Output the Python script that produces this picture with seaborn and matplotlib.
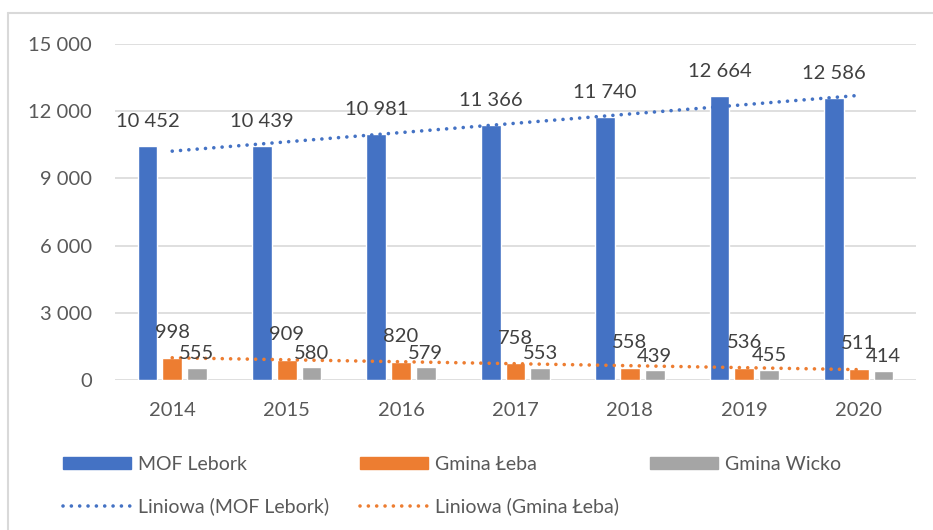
import numpy as np
import pandas as pd
import matplotlib
matplotlib.use("Agg")
import matplotlib.pyplot as plt
from matplotlib.lines import Line2D
from matplotlib.patches import Patch
import seaborn as sns

# data
years = ["2014", "2015", "2016", "2017", "2018", "2019", "2020"]
mof_lebork = [10452, 10439, 10981, 11366, 11740, 12664, 12586]
gmina_leba = [998, 909, 820, 758, 558, 536, 511]
gmina_wicko = [555, 580, 579, 553, 439, 455, 414]

series_names = ["MOF Lebork", "Gmina Łeba", "Gmina Wicko"]
colors = ["#4472C4", "#ED7D31", "#A5A5A5"]
y_ticks = [0, 3000, 6000, 9000, 12000, 15000]

W, H = 933, 530
DOTS = (0, (0.01, 2.3))  # round dots like Excel's "round dot" dash

df = pd.DataFrame({
    "rok": years * 3,
    "wartosc": mof_lebork + gmina_leba + gmina_wicko,
    "seria": [s for s in series_names for _ in years],
})

sns.set_theme(style="white")
plt.rcParams["font.family"] = ["Lato", "DejaVu Sans"]

fig = plt.figure(figsize=(W / 100, H / 100), dpi=100)
ax = fig.add_axes([115 / W, 1 - 380 / H, (916 - 115) / W, (380 - 44) / H])

sns.barplot(
    data=df, x="rok", y="wartosc", hue="seria",
    hue_order=series_names, palette=colors,
    width=0.65, gap=0.2, legend=False, ax=ax, saturation=1,
)

# linear trendlines (Excel "Liniowa") fitted on category positions
xs = np.arange(len(years))
for vals, col in [(mof_lebork, colors[0]), (gmina_leba, colors[1])]:
    a, b = np.polyfit(xs, vals, 1)
    ax.plot(xs, a * xs + b, color=col, lw=2.6, ls=DOTS,
            dash_capstyle="round", zorder=3)

# data labels (offsets in points above bar top)
offsets = [17.6, 18.0, 10.0]
for cont, off in zip(ax.containers, offsets):
    for bar in cont:
        h = bar.get_height()
        ax.annotate(f"{int(h):,}".replace(",", " "),
                    xy=(bar.get_x() + bar.get_width() / 2, h),
                    xytext=(0, off), textcoords="offset points",
                    ha="center", va="center", fontsize=14.5,
                    color="#404040", zorder=4)

ax.set_xlim(-0.5, len(years) - 0.5)
ax.set_ylim(0, 15000)
ax.set_yticks(y_ticks)
ax.set_yticklabels([f"{t:,}".replace(",", " ") for t in y_ticks])
ax.set_xlabel("")
ax.set_ylabel("")
ax.yaxis.grid(True, color="#d9d9d9", lw=1.2)
ax.set_axisbelow(True)
sns.despine(ax=ax, left=True, bottom=True)
ax.tick_params(axis="both", length=0, labelsize=14.5, colors="#595959")
ax.tick_params(axis="y", pad=16.5)
ax.tick_params(axis="x", pad=16)

# legend: row-major order via column-major filling
handles = [
    Patch(color=colors[0], label="MOF Lebork"),
    Line2D([], [], color=colors[0], lw=2.6, ls=DOTS,
           dash_capstyle="round", label="Liniowa (MOF Lebork)"),
    Patch(color=colors[1], label="Gmina Łeba"),
    Line2D([], [], color=colors[1], lw=2.6, ls=DOTS,
           dash_capstyle="round", label="Liniowa (Gmina Łeba)"),
    Patch(color=colors[2], label="Gmina Wicko"),
]
leg = fig.legend(
    handles=handles, ncol=3, loc="upper left",
    bbox_to_anchor=(63 / W, 1 - 456 / H), frameon=False,
    fontsize=14, handlelength=3.5, handleheight=0.62,
    handletextpad=0.35, columnspacing=1.6, labelspacing=1.25,
    borderpad=0, borderaxespad=0,
)
for t in leg.get_texts():
    t.set_color("#595959")

# chart frame (left and top edges visible)
fig.add_artist(Line2D([8 / W, 8 / W], [0, 1 - 13 / H], transform=fig.transFigure,
                      color="#d9d9d9", lw=1.5))
fig.add_artist(Line2D([8 / W, 1], [1 - 13 / H, 1 - 13 / H], transform=fig.transFigure,
                      color="#d9d9d9", lw=1.5))

fig.savefig("out.png", dpi=100)
